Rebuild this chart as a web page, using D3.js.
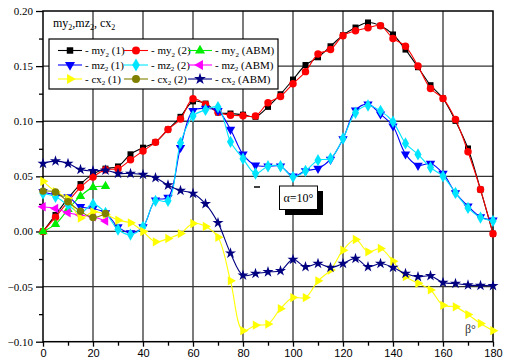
<!DOCTYPE html>
<html><head><meta charset="utf-8">
<script src="https://cdn.jsdelivr.net/npm/d3@7/dist/d3.min.js"></script>
<style>body{margin:0;background:#fff}svg{display:block}</style>
</head><body>
<svg id="c" width="505" height="363"></svg>
<script>
const angles = [0,5,10,15,20,25,30,35,40,45,50,55,60,65,70,75,80,85,90,95,100,105,110,115,120,125,130,135,140,145,150,155,160,165,170,175,180];
const anglesABM = [0,5,10,15,20,25];
const my2_1 = [0,0.015,0.030,0.043,0.052,0.057,0.059,0.070,0.076,0.081,0.0925,0.104,0.118,0.116,0.108,0.107,0.106,0.104,0.113,0.1245,0.1378,0.151,0.158,0.168,0.178,0.185,0.1896,0.1866,0.1787,0.165,0.149,0.1327,0.1207,0.1003,0.0753,0.038,-0.002];
const my2_2 = [0,0.013,0.027,0.040,0.0495,0.056,0.057,0.065,0.073,0.081,0.0925,0.102,0.1205,0.1152,0.1082,0.1055,0.105,0.1048,0.1167,0.1225,0.134,0.145,0.161,0.165,0.1775,0.182,0.1847,0.1866,0.175,0.168,0.150,0.1297,0.1207,0.1015,0.0723,0.038,-0.002];
const my2_ABM = [0,0.0066,0.020,0.032,0.040,0.041];
const mz2_1 = [0.036,0.033,0.0314,0.0224,0.0208,0.0169,0.0042,-0.0013,0.0042,0.0284,0.0308,0.076,0.1095,0.1116,0.1095,0.0925,0.070,0.060,0.0592,0.0592,0.0501,0.055,0.0571,0.0653,0.084,0.110,0.1155,0.1064,0.0955,0.0702,0.0598,0.0616,0.0526,0.035,0.0229,0.0132,0.0102];
const mz2_2 = [0.0344,0.0314,0.0239,0.0169,0.0248,0.0169,0.0018,-0.0028,0.0042,0.0278,0.0278,0.0804,0.1047,0.1103,0.1128,0.0813,0.066,0.0526,0.0592,0.0592,0.0495,0.055,0.0647,0.0662,0.0843,0.1077,0.1143,0.1094,0.0995,0.0799,0.0699,0.058,0.0501,0.035,0.0214,0.0126,0.0096];
const mz2_ABM = [0.0224,0.0208,0.0169,0.0148,0.0133,0.0094];
const cx2_1 = [0.0456,0.036,0.030,0.0122,0.0178,0.0155,0.0102,0.0078,0.0,-0.0094,-0.0064,-0.0019,0.0072,0.0045,-0.0052,-0.0448,-0.090,-0.085,-0.084,-0.070,-0.060,-0.060,-0.0448,-0.035,-0.017,-0.0073,-0.0185,-0.0155,-0.027,-0.041,-0.047,-0.053,-0.067,-0.0684,-0.0754,-0.0835,-0.090];
const cx2_2 = [0.0366,0.0357,0.0269,0.0184,0.0127,0.0163];
const cx2_ABM = [0.0617,0.0638,0.0617,0.0562,0.055,0.0556,0.0526,0.0526,0.0517,0.0487,0.042,0.0372,0.0345,0.025,0.0078,-0.0197,-0.0397,-0.0382,-0.0367,-0.0357,-0.0255,-0.0321,-0.0291,-0.0327,-0.0291,-0.0245,-0.0321,-0.0291,-0.0327,-0.0381,-0.0412,-0.0403,-0.0464,-0.0472,-0.0487,-0.049,-0.0493];
const xTicks = [0,20,40,60,80,100,120,140,160,180];
const yTicks = [-0.10,-0.05,0.00,0.05,0.10,0.15,0.20];

const series = [
  {name:"my", idx:"(1)", x:angles, y:my2_1, color:"#000000", sym:d3.symbolSquare, rot:0, size:36},
  {name:"my", idx:"(2)", x:angles, y:my2_2, color:"#ff0000", sym:d3.symbolCircle, rot:0, size:44},
  {name:"my", idx:"(ABM)", x:anglesABM, y:my2_ABM, color:"#00ee00", sym:d3.symbolTriangle, rot:0, size:38},
  {name:"mz", idx:"(1)", x:angles, y:mz2_1, color:"#0000ff", sym:d3.symbolTriangle, rot:180, size:38},
  {name:"mz", idx:"(2)", x:angles, y:mz2_2, color:"#00e5ff", sym:d3.symbolDiamond, rot:0, size:44},
  {name:"mz", idx:"(ABM)", x:anglesABM, y:mz2_ABM, color:"#ff00ff", sym:d3.symbolTriangle, rot:-90, size:38},
  {name:"cx", idx:"(1)", x:angles, y:cx2_1, color:"#ffff00", sym:d3.symbolTriangle, rot:90, size:38},
  {name:"cx", idx:"(2)", x:anglesABM, y:cx2_2, color:"#808000", sym:d3.symbolCircle, rot:0, size:44},
  {name:"cx", idx:"(ABM)", x:angles, y:cx2_ABM, color:"#000080", sym:d3.symbolStar, rot:0, size:38}
];

const svg = d3.select("#c");
const X = d3.scaleLinear().domain([0,180]).range([43,493]);
const Y = d3.scaleLinear().domain([-0.1,0.2]).range([341.7,11]);
const serif = "'Liberation Serif','Times New Roman',serif";
const sans = "'Liberation Sans',Arial,sans-serif";

// grid
const g = svg.append("g");
g.selectAll("line.vg").data(xTicks.slice(1,-1)).join("line")
  .attr("x1",d=>X(d)).attr("x2",d=>X(d)).attr("y1",Y(0.2)).attr("y2",Y(-0.1))
  .attr("stroke","#333").attr("stroke-width",1.3);
g.selectAll("line.hg").data(yTicks.slice(1,-1)).join("line")
  .attr("y1",d=>Y(d)).attr("y2",d=>Y(d)).attr("x1",X(0)).attr("x2",X(180))
  .attr("stroke","#333").attr("stroke-width",1.3);

// axes
const xAxis = d3.axisBottom(X).tickValues(xTicks).tickFormat(d3.format("d")).tickSize(5).tickPadding(3);
const xg = svg.append("g").attr("transform",`translate(0,${Y(-0.1)})`).call(xAxis);
xg.select(".domain").remove();
xg.selectAll("text").attr("font-family",sans).attr("font-size",11).attr("fill","#000");
const xMinor = d3.axisBottom(X).tickValues(d3.range(10,180,20)).tickFormat("").tickSize(4);
const xmg = svg.append("g").attr("transform",`translate(0,${Y(-0.1)})`).call(xMinor);
xmg.select(".domain").remove();

const yAxis = d3.axisLeft(Y).tickValues(yTicks).tickFormat(d3.format(".2f")).tickSize(7).tickPadding(3);
const yg = svg.append("g").attr("transform",`translate(${X(0)},0)`).call(yAxis);
yg.select(".domain").remove();
yg.selectAll("text").attr("font-family",serif).attr("font-size",11).attr("fill","#000");
const yMinor = d3.axisLeft(Y).tickValues([-0.075,-0.025,0.025,0.075,0.125,0.175]).tickFormat("").tickSize(4);
const ymg = svg.append("g").attr("transform",`translate(${X(0)},0)`).call(yMinor);
ymg.select(".domain").remove();
svg.selectAll(".tick line").attr("stroke","#000").attr("stroke-width",1.3);

// frame
svg.append("rect").attr("x",X(0)).attr("y",Y(0.2)).attr("width",X(180)-X(0)).attr("height",Y(-0.1)-Y(0.2))
  .attr("fill","none").attr("stroke","#000").attr("stroke-width",1.5);

// series
const line = d3.line().curve(d3.curveCatmullRom.alpha(0.5));
series.forEach(s=>{
  const pts = s.x.map((a,i)=>[X(a),Y(s.y[i])]);
  svg.append("path").attr("d",line(pts)).attr("fill","none").attr("stroke",s.color).attr("stroke-width",1.1);
  svg.append("g").selectAll("path").data(pts).join("path")
    .attr("d",d3.symbol().type(s.sym).size(s.size))
    .attr("transform",d=>`translate(${d[0]},${d[1]}) rotate(${s.rot})`)
    .attr("fill",s.color);
});

// title
const t = svg.append("text").attr("x",53).attr("y",27).attr("font-family",serif).attr("font-size",12);
[["my",0],["2",1],[",mz",0],["2",1],[", cx",0],["2",1]].forEach(([s,sub],i)=>{
  t.append("tspan").text(s).attr("font-size",sub?8:12).attr("dy",sub?3:(i?-3:0));
});

// legend
svg.append("rect").attr("x",49).attr("y",39).attr("width",229).attr("height",50)
  .attr("fill","#fff").attr("stroke","#000").attr("stroke-width",1.2);
const colX = [58,124,188];
const rowY = [50.5,65,79];
series.forEach((s,i)=>{
  const cx = colX[i%3], cy = rowY[Math.floor(i/3)];
  svg.append("line").attr("x1",cx).attr("x2",cx+24).attr("y1",cy).attr("y2",cy).attr("stroke",s.color).attr("stroke-width",1.1);
  svg.append("path").attr("d",d3.symbol().type(s.sym).size(s.size+6)())
    .attr("transform",`translate(${cx+12},${cy}) rotate(${s.rot})`).attr("fill",s.color);
  const tx = svg.append("text").attr("x",cx+27).attr("y",cy+3.5).attr("font-family",serif).attr("font-size",11);
  tx.append("tspan").text("- "+s.name);
  tx.append("tspan").text("2").attr("font-size",7).attr("dy",2.5);
  tx.append("tspan").text(" "+s.idx).attr("dy",-2.5);
});

// alpha box
svg.append("rect").attr("x",285).attr("y",191).attr("width",38).attr("height",24).attr("fill","#000");
svg.append("rect").attr("x",279.5).attr("y",186).attr("width",38).attr("height",23.5).attr("fill","#fff").attr("stroke","#000").attr("stroke-width",1);
svg.append("text").attr("x",298.5).attr("y",202).attr("text-anchor","middle").attr("font-family",serif).attr("font-size",12).text("α=10°");
svg.append("line").attr("x1",254).attr("x2",260).attr("y1",187).attr("y2",187).attr("stroke","#000").attr("stroke-width",1.5);

// beta label
svg.append("text").attr("x",465).attr("y",333).attr("font-family",serif).attr("font-size",12).attr("fill","#333").text("β°");
</script>
</body></html>
